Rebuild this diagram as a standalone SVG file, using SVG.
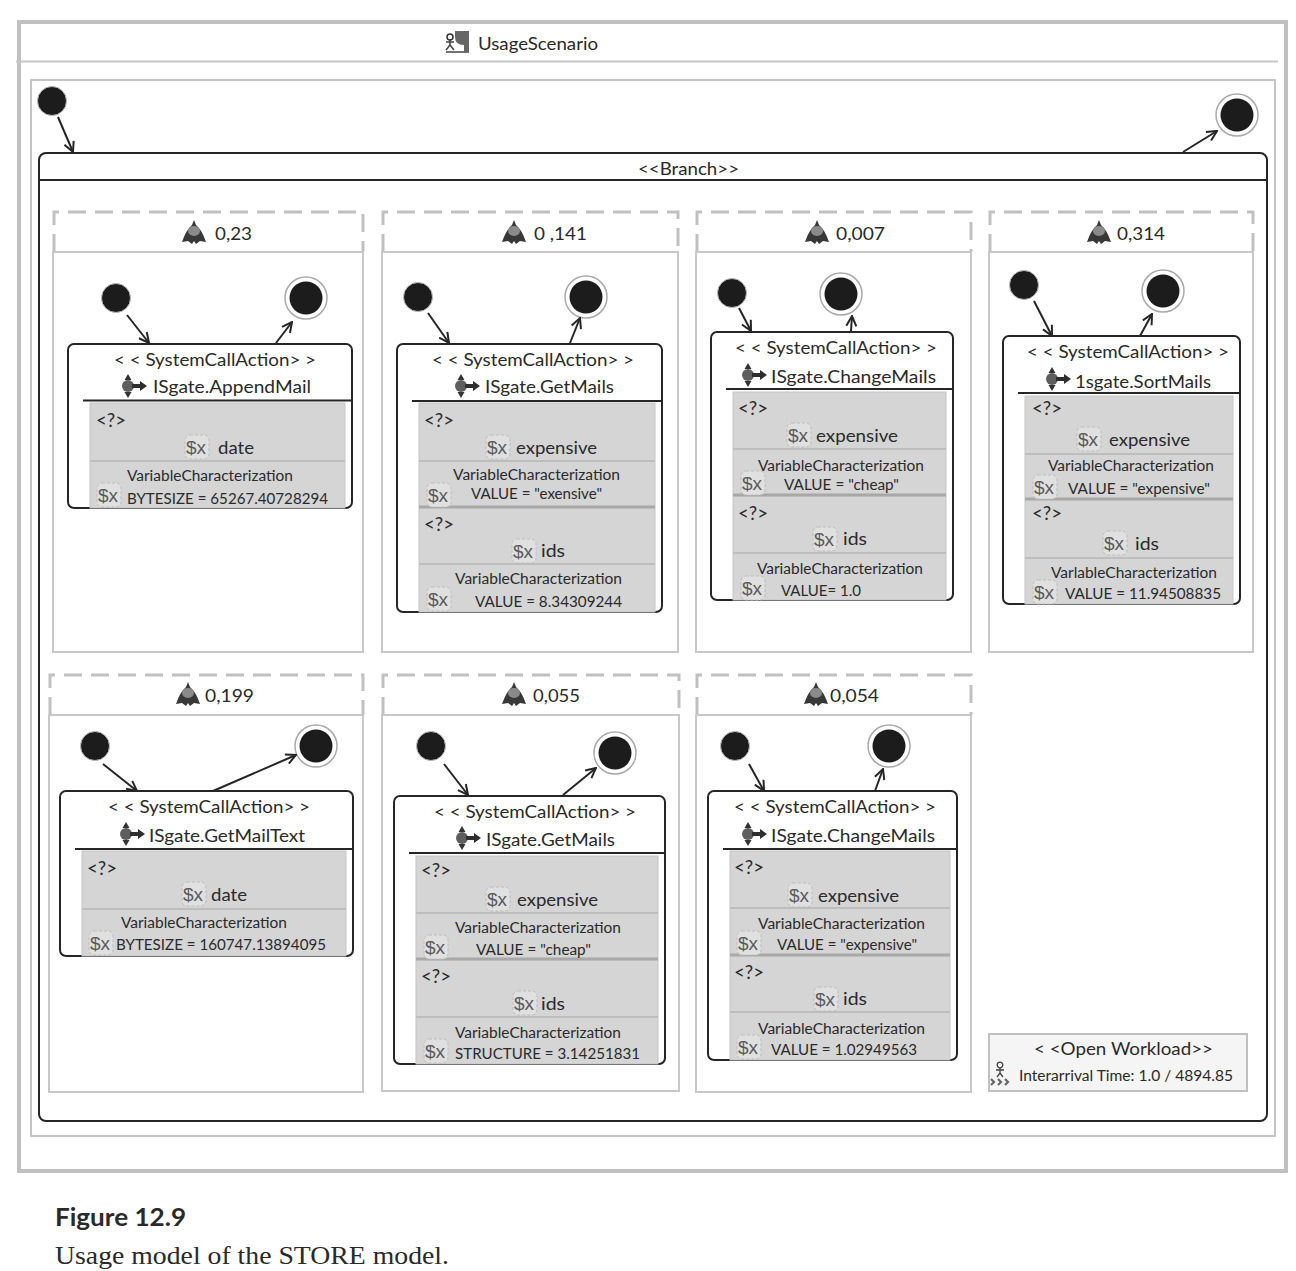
<svg xmlns="http://www.w3.org/2000/svg" xmlns:xlink="http://www.w3.org/1999/xlink" width="1296" height="1271" viewBox="0 0 1296 1271">
<style>
text{font-family:"Lato","Open Sans","Liberation Sans",sans-serif;fill:#2a2a2a;font-size:18px}
.s{font-size:15.5px}
.q{font-size:20px}
.frame{fill:none;stroke:#c4c4c4;stroke-width:2}
.tab{fill:none;stroke:#c0c0c0;stroke-width:3;stroke-dasharray:18 9}
.body{fill:#fff;stroke:#c8c8c8;stroke-width:2}
.box{fill:#fff;stroke:#262626;stroke-width:2}
.sep{stroke:#262626;stroke-width:2}
.gray{fill:#d5d5d5;stroke:#c6c6c6;stroke-width:1}
.div{stroke:#bdbdbd;stroke-width:2}
.div2{stroke:#a8a8a8;stroke-width:3}
.c{fill:none;stroke:#262626;stroke-width:2;marker-end:url(#arr)}
.xt{font-family:"Liberation Sans",sans-serif;font-size:19px;fill:#5a5a5a}
</style>
<defs>
<marker id="arr" viewBox="0 0 12 12" refX="11" refY="6" markerWidth="12" markerHeight="12" markerUnits="userSpaceOnUse" orient="auto"><path d="M1,1 L11,6 L1,11" fill="none" stroke="#262626" stroke-width="2"/></marker>
<symbol id="init" overflow="visible"><circle r="14.5" fill="#1c1c1c" stroke="#bbb" stroke-width="1"/></symbol>
<symbol id="final" overflow="visible"><circle r="21" fill="#fff" stroke="#aaa" stroke-width="1.5"/><circle r="16.5" fill="#1c1c1c"/></symbol>
<symbol id="br" overflow="visible"><path d="M0,-13 L2,-8 Q8,-3 12,9 L6,8 L2,11 L0,8 L-2,11 L-6,8 L-12,9 Q-8,-3 -2,-8Z" fill="#383838"/><ellipse cy="-2" rx="6" ry="5" fill="#8a8a8a"/></symbol>
<symbol id="call" overflow="visible"><circle r="6" fill="#5e5e5e"/><path d="M0,-12 L3.500,-6 L-3.500,-6Z M0,12 L3.500,6 L-3.500,6Z" fill="#333"/><path d="M4,-2 H12 V-5 L19,0 L12,5 V2 H4Z" fill="#2e2e2e"/></symbol>
<symbol id="var" overflow="visible"><rect x="-12" y="-12" width="24" height="24" rx="5" fill="#e0e0e0" stroke="#bcbcbc" stroke-dasharray="3 2"/><text class="xt" x="-11" y="6.500">$x</text></symbol>
<symbol id="scen" overflow="visible"><circle cx="-8" cy="-5" r="3" fill="none" stroke="#333" stroke-width="1.500"/><path d="M-8,-2 V3 M-12,0 H-4 M-8,3 L-12,8 M-8,3 L-4,8 M-12,10 H11" fill="none" stroke="#444" stroke-width="1.500"/><path d="M-3,-11 H11 V10 H6 V3 Q-3,3 -3,-5Z" fill="#666"/></symbol>
<symbol id="wl" overflow="visible"><circle cy="-7" r="2.800" fill="none" stroke="#444" stroke-width="1.300"/><path d="M0,-4 V1 M-4,-2 H4 M0,1 L-3,5 M0,1 L3,5" fill="none" stroke="#444" stroke-width="1.300"/><path d="M-9,7 L-6,10 L-9,13 M-2,7 L1,10 L-2,13 M5,7 L8,10 L5,13" fill="none" stroke="#666" stroke-width="2.200"/></symbol>
</defs>
<rect width="1296" height="1271" fill="#fff"/>

<g id="usage-scenario">
<rect x="19" y="22" width="1267" height="1149" fill="none" stroke="#c0c0c0" stroke-width="4"/>
<line x1="16" y1="61.500" x2="1278" y2="61.500" stroke="#c8c8c8" stroke-width="2"/>
<use href="#scen" x="458" y="42"/>
<text x="478" y="50" textLength="120" lengthAdjust="spacingAndGlyphs">UsageScenario</text>
<rect class="frame" x="31" y="80" width="1244" height="1056"/>
</g>

<g id="branch">
<rect x="39" y="153" width="1228" height="968" rx="7" fill="#fff" stroke="#262626" stroke-width="2"/>
<line class="sep" x1="39" y1="180" x2="1267" y2="180"/>
<text x="638" y="175" textLength="101" lengthAdjust="spacingAndGlyphs">&lt;&lt;Branch&gt;&gt;</text>
</g>

<g id="panel-1">
<path class="tab" d="M54,252 V212 H363 V252"/><rect class="body" x="53" y="252" width="310" height="400"/>
<use href="#br" x="194" y="233"/><text x="215" y="240" textLength="37" lengthAdjust="spacingAndGlyphs">0,23</text>
</g>
<g id="panel-2">
<path class="tab" d="M383,252 V212 H678 V252"/><rect class="body" x="382" y="252" width="296" height="400"/>
<use href="#br" x="514" y="233"/><text x="534" y="240" textLength="53" lengthAdjust="spacingAndGlyphs">0 ,141</text>
</g>
<g id="panel-3">
<path class="tab" d="M697,252 V212 H971 V252"/><rect class="body" x="696" y="252" width="275" height="400"/>
<use href="#br" x="817" y="233"/><text x="836" y="240" textLength="49" lengthAdjust="spacingAndGlyphs">0,007</text>
</g>
<g id="panel-4">
<path class="tab" d="M990,252 V212 H1253 V252"/><rect class="body" x="989" y="252" width="264" height="400"/>
<use href="#br" x="1099" y="233"/><text x="1117" y="240" textLength="48" lengthAdjust="spacingAndGlyphs">0,314</text>
</g>
<g id="panel-5">
<path class="tab" d="M50,715 V675 H363 V715"/><rect class="body" x="49" y="715" width="314" height="377"/>
<use href="#br" x="188" y="695"/><text x="205" y="702" textLength="49" lengthAdjust="spacingAndGlyphs">0,199</text>
</g>
<g id="panel-6">
<path class="tab" d="M383,715 V675 H679 V715"/><rect class="body" x="382" y="715" width="297" height="376"/>
<use href="#br" x="514" y="695"/><text x="533" y="702" textLength="47" lengthAdjust="spacingAndGlyphs">0,055</text>
</g>
<g id="panel-7">
<path class="tab" d="M697,715 V675 H971 V715"/><rect class="body" x="696" y="715" width="275" height="377"/>
<use href="#br" x="816" y="695"/><text x="830" y="702" textLength="49" lengthAdjust="spacingAndGlyphs">0,054</text>
</g>

<g id="top-initial"><use href="#init" x="52" y="101"/></g>
<g id="top-final"><use href="#final" x="1237" y="115"/></g>

<g id="flow-1">
<use href="#init" x="116" y="298"/><use href="#final" x="306" y="298"/>
<rect class="box" x="68" y="344" width="284" height="164" rx="6"/>
<rect class="gray" x="90" y="403" width="255" height="105"/>
<line class="sep" x1="83" y1="400.500" x2="353" y2="400.500"/>
<line class="div" x1="90" y1="461" x2="345" y2="461"/>
<text x="114" y="366" textLength="202" lengthAdjust="spacingAndGlyphs">&lt; &lt; SystemCallAction&gt; &gt;</text>
<use href="#call" x="128" y="386"/><text x="153" y="393" textLength="158" lengthAdjust="spacingAndGlyphs">ISgate.AppendMail</text>
<text class="q" x="96" y="427" textLength="30" lengthAdjust="spacingAndGlyphs">&lt;?&gt;</text>
<use href="#var" x="197" y="447"/><text x="218" y="454" textLength="36" lengthAdjust="spacingAndGlyphs">date</text>
<text class="s" x="127" y="481" textLength="166" lengthAdjust="spacingAndGlyphs">VariableCharacterization</text>
<use href="#var" x="109" y="495"/><text class="s" x="127" y="504" textLength="201" lengthAdjust="spacingAndGlyphs">BYTESIZE = 65267.40728294</text>
</g>

<g id="flow-2">
<use href="#init" x="418" y="297"/><use href="#final" x="586" y="297"/>
<rect class="box" x="397" y="344" width="265" height="268" rx="6"/>
<rect class="gray" x="419" y="403" width="236" height="209"/>
<line class="sep" x1="412" y1="401" x2="663" y2="401"/>
<line class="div" x1="419" y1="461" x2="655" y2="461"/><line class="div2" x1="419" y1="507" x2="655" y2="507"/><line class="div" x1="419" y1="564" x2="655" y2="564"/>
<text x="432" y="366" textLength="202" lengthAdjust="spacingAndGlyphs">&lt; &lt; SystemCallAction&gt; &gt;</text>
<use href="#call" x="461" y="386"/><text x="485" y="393" textLength="129" lengthAdjust="spacingAndGlyphs">ISgate.GetMails</text>
<text class="q" x="424" y="427" textLength="30" lengthAdjust="spacingAndGlyphs">&lt;?&gt;</text>
<use href="#var" x="498" y="447"/><text x="516" y="454" textLength="81" lengthAdjust="spacingAndGlyphs">expensive</text>
<text class="s" x="453" y="480" textLength="167" lengthAdjust="spacingAndGlyphs">VariableCharacterization</text>
<use href="#var" x="439" y="495"/><text class="s" x="471" y="499" textLength="131" lengthAdjust="spacingAndGlyphs">VALUE = "exensive"</text>
<text class="q" x="424" y="531" textLength="30" lengthAdjust="spacingAndGlyphs">&lt;?&gt;</text>
<use href="#var" x="524" y="551"/><text x="541" y="557" textLength="24" lengthAdjust="spacingAndGlyphs">ids</text>
<text class="s" x="455" y="584" textLength="167" lengthAdjust="spacingAndGlyphs">VariableCharacterization</text>
<use href="#var" x="439" y="599"/><text class="s" x="475" y="607" textLength="147" lengthAdjust="spacingAndGlyphs">VALUE = 8.34309244</text>
</g>

<g id="flow-3">
<use href="#init" x="732" y="293"/><use href="#final" x="841" y="294"/>
<rect class="box" x="711" y="332" width="242" height="268" rx="6"/>
<rect class="gray" x="733" y="392" width="213" height="208"/>
<line class="sep" x1="726" y1="389" x2="954" y2="389"/>
<line class="div" x1="733" y1="449" x2="946" y2="449"/><line class="div2" x1="733" y1="495" x2="946" y2="495"/><line class="div" x1="733" y1="553" x2="946" y2="553"/>
<text x="735" y="354" textLength="202" lengthAdjust="spacingAndGlyphs">&lt; &lt; SystemCallAction&gt; &gt;</text>
<use href="#call" x="748" y="375"/><text x="771" y="383" textLength="165" lengthAdjust="spacingAndGlyphs">ISgate.ChangeMails</text>
<text class="q" x="738" y="415" textLength="30" lengthAdjust="spacingAndGlyphs">&lt;?&gt;</text>
<use href="#var" x="799" y="435"/><text x="816" y="442" textLength="82" lengthAdjust="spacingAndGlyphs">expensive</text>
<text class="s" x="758" y="471" textLength="166" lengthAdjust="spacingAndGlyphs">VariableCharacterization</text>
<use href="#var" x="753" y="483"/><text class="s" x="784" y="490" textLength="115" lengthAdjust="spacingAndGlyphs">VALUE = "cheap"</text>
<text class="q" x="738" y="520" textLength="30" lengthAdjust="spacingAndGlyphs">&lt;?&gt;</text>
<use href="#var" x="825" y="539"/><text x="843" y="545" textLength="24" lengthAdjust="spacingAndGlyphs">ids</text>
<text class="s" x="757" y="574" textLength="166" lengthAdjust="spacingAndGlyphs">VariableCharacterization</text>
<use href="#var" x="753" y="588"/><text class="s" x="781" y="596" textLength="80" lengthAdjust="spacingAndGlyphs">VALUE= 1.0</text>
</g>

<g id="flow-4">
<use href="#init" x="1024" y="285"/><use href="#final" x="1163" y="291"/>
<rect class="box" x="1003" y="336" width="237" height="268" rx="6"/>
<rect class="gray" x="1025" y="396" width="208" height="208"/>
<line class="sep" x1="1018" y1="393" x2="1241" y2="393"/>
<line class="div" x1="1025" y1="454" x2="1233" y2="454"/><line class="div2" x1="1025" y1="499" x2="1233" y2="499"/><line class="div" x1="1025" y1="558" x2="1233" y2="558"/>
<text x="1027" y="358" textLength="202" lengthAdjust="spacingAndGlyphs">&lt; &lt; SystemCallAction&gt; &gt;</text>
<use href="#call" x="1052" y="379"/><text x="1075" y="388" textLength="136" lengthAdjust="spacingAndGlyphs">1sgate.SortMails</text>
<text class="q" x="1032" y="415" textLength="30" lengthAdjust="spacingAndGlyphs">&lt;?&gt;</text>
<use href="#var" x="1089" y="439"/><text x="1109" y="446" textLength="81" lengthAdjust="spacingAndGlyphs">expensive</text>
<text class="s" x="1048" y="471" textLength="166" lengthAdjust="spacingAndGlyphs">VariableCharacterization</text>
<use href="#var" x="1045" y="487"/><text class="s" x="1068" y="494" textLength="142" lengthAdjust="spacingAndGlyphs">VALUE = "expensive"</text>
<text class="q" x="1032" y="520" textLength="30" lengthAdjust="spacingAndGlyphs">&lt;?&gt;</text>
<use href="#var" x="1115" y="543"/><text x="1135" y="550" textLength="24" lengthAdjust="spacingAndGlyphs">ids</text>
<text class="s" x="1051" y="578" textLength="166" lengthAdjust="spacingAndGlyphs">VarlableCharacterization</text>
<use href="#var" x="1045" y="592"/><text class="s" x="1065" y="599" textLength="156" lengthAdjust="spacingAndGlyphs">VALUE = 11.94508835</text>
</g>

<g id="flow-5">
<use href="#init" x="95" y="746"/><use href="#final" x="316" y="746"/>
<rect class="box" x="60" y="791" width="293" height="165" rx="6"/>
<rect class="gray" x="82" y="851" width="264" height="105"/>
<line class="sep" x1="75" y1="849" x2="353" y2="849"/>
<line class="div" x1="82" y1="909" x2="346" y2="909"/>
<text x="108" y="813" textLength="202" lengthAdjust="spacingAndGlyphs">&lt; &lt; SystemCallAction&gt; &gt;</text>
<use href="#call" x="126" y="834"/><text x="149" y="842" textLength="156" lengthAdjust="spacingAndGlyphs">ISgate.GetMailText</text>
<text class="q" x="87" y="875" textLength="30" lengthAdjust="spacingAndGlyphs">&lt;?&gt;</text>
<use href="#var" x="194" y="894"/><text x="211" y="901" textLength="36" lengthAdjust="spacingAndGlyphs">date</text>
<text class="s" x="121" y="928" textLength="166" lengthAdjust="spacingAndGlyphs">VariableCharacterization</text>
<use href="#var" x="101" y="943"/><text class="s" x="116" y="950" textLength="210" lengthAdjust="spacingAndGlyphs">BYTESIZE = 160747.13894095</text>
</g>

<g id="flow-6">
<use href="#init" x="431" y="746"/><use href="#final" x="615" y="753"/>
<rect class="box" x="394" y="796" width="271" height="268" rx="6"/>
<rect class="gray" x="416" y="856" width="242" height="208"/>
<line class="sep" x1="409" y1="853" x2="666" y2="853"/>
<line class="div" x1="416" y1="913" x2="658" y2="913"/><line class="div2" x1="416" y1="959" x2="658" y2="959"/><line class="div" x1="416" y1="1017" x2="658" y2="1017"/>
<text x="434" y="818" textLength="202" lengthAdjust="spacingAndGlyphs">&lt; &lt; SystemCallAction&gt; &gt;</text>
<use href="#call" x="462" y="838"/><text x="486" y="846" textLength="129" lengthAdjust="spacingAndGlyphs">ISgate.GetMails</text>
<text class="q" x="421" y="877" textLength="30" lengthAdjust="spacingAndGlyphs">&lt;?&gt;</text>
<use href="#var" x="498" y="899"/><text x="517" y="906" textLength="81" lengthAdjust="spacingAndGlyphs">expensive</text>
<text class="s" x="455" y="933" textLength="166" lengthAdjust="spacingAndGlyphs">VariableCharacterization</text>
<use href="#var" x="436" y="947"/><text class="s" x="476" y="955" textLength="115" lengthAdjust="spacingAndGlyphs">VALUE = "cheap"</text>
<text class="q" x="421" y="983" textLength="30" lengthAdjust="spacingAndGlyphs">&lt;?&gt;</text>
<use href="#var" x="525" y="1003"/><text x="541" y="1010" textLength="24" lengthAdjust="spacingAndGlyphs">ids</text>
<text class="s" x="455" y="1038" textLength="166" lengthAdjust="spacingAndGlyphs">VariableCharacterization</text>
<use href="#var" x="436" y="1051"/><text class="s" x="455" y="1059" textLength="185" lengthAdjust="spacingAndGlyphs">STRUCTURE = 3.14251831</text>
</g>

<g id="flow-7">
<use href="#init" x="735" y="746"/><use href="#final" x="889" y="746"/>
<rect class="box" x="708" y="791" width="249" height="269" rx="6"/>
<rect class="gray" x="730" y="851" width="220" height="209"/>
<line class="sep" x1="723" y1="849" x2="958" y2="849"/>
<line class="div" x1="730" y1="908" x2="950" y2="908"/><line class="div2" x1="730" y1="955" x2="950" y2="955"/><line class="div" x1="730" y1="1012" x2="950" y2="1012"/>
<text x="734" y="813" textLength="202" lengthAdjust="spacingAndGlyphs">&lt; &lt; SystemCallAction&gt; &gt;</text>
<use href="#call" x="748" y="834"/><text x="771" y="842" textLength="164" lengthAdjust="spacingAndGlyphs">ISgate.ChangeMails</text>
<text class="q" x="734" y="874" textLength="30" lengthAdjust="spacingAndGlyphs">&lt;?&gt;</text>
<use href="#var" x="800" y="895"/><text x="818" y="902" textLength="81" lengthAdjust="spacingAndGlyphs">expensive</text>
<text class="s" x="758" y="929" textLength="167" lengthAdjust="spacingAndGlyphs">VariableCharacterization</text>
<use href="#var" x="749" y="943"/><text class="s" x="777" y="950" textLength="140" lengthAdjust="spacingAndGlyphs">VALUE = "expensive"</text>
<text class="q" x="734" y="979" textLength="30" lengthAdjust="spacingAndGlyphs">&lt;?&gt;</text>
<use href="#var" x="826" y="999"/><text x="843" y="1005" textLength="24" lengthAdjust="spacingAndGlyphs">ids</text>
<text class="s" x="758" y="1034" textLength="167" lengthAdjust="spacingAndGlyphs">VariableCharacterization</text>
<use href="#var" x="749" y="1047"/><text class="s" x="771" y="1055" textLength="146" lengthAdjust="spacingAndGlyphs">VALUE = 1.02949563</text>
</g>

<g id="open-workload">
<rect x="989" y="1034" width="258" height="57" fill="#f5f5f5" stroke="#c0c0c0" stroke-width="2"/>
<text x="1034" y="1055" textLength="179" lengthAdjust="spacingAndGlyphs">&lt; &lt;Open Workload&gt;&gt;</text>
<use href="#wl" x="1000" y="1072"/>
<text class="s" x="1019" y="1081" textLength="214" lengthAdjust="spacingAndGlyphs">Interarrival Time: 1.0 / 4894.85</text>
</g>

<g id="connectors">
<path class="c" d="M58,117 L73,152"/><path class="c" d="M1183,152 L1217,131"/>
<path class="c" d="M127,315 L149,343"/><path class="c" d="M276,343 L292,322"/>
<path class="c" d="M428,313 L449,343"/><path class="c" d="M570,343 L580,318"/>
<path class="c" d="M739,308 L751,331"/><path class="c" d="M851,331 L852,316"/>
<path class="c" d="M1034,301 L1052,336"/><path class="c" d="M1140,336 L1152,314"/>
<path class="c" d="M103,764 L137,791"/><path class="c" d="M213,791 L296,755"/>
<path class="c" d="M444,764 L468,795"/><path class="c" d="M563,795 L596,768"/>
<path class="c" d="M749,764 L764,791"/><path class="c" d="M875,791 L883,769"/>
</g>

<g id="caption">
<text x="55" y="1226" textLength="131" lengthAdjust="spacingAndGlyphs" style="font-size:24px;font-weight:bold">Figure 12.9</text>
<text x="55" y="1264" textLength="394" lengthAdjust="spacingAndGlyphs" style="font-family:'Liberation Serif',serif;font-size:26px">Usage model of the STORE model.</text>
</g>
</svg>
